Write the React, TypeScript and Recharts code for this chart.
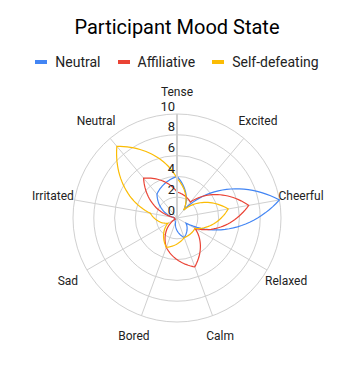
import React from 'react';
import { RadarChart, Radar, PolarGrid, PolarAngleAxis, PolarRadiusAxis } from 'recharts';

const moods = ['Tense', 'Excited', 'Cheerful', 'Relaxed', 'Calm', 'Bored', 'Sad', 'Irritated', 'Neutral'];
const neutralValues = [4, 1, 10, 1, 2, 0.4, 0.2, 0.3, 3];
const affiliativeValues = [2.5, 2, 7, 2, 5, 3, 0.2, 0.3, 5];
const selfDefeatingValues = [3.8, 1, 5, 2, 2, 3, 1, 2.6, 9];
const radiusTicks = [0, 2, 4, 6, 8, 10];
const seriesNames = ['Neutral', 'Affiliative', 'Self-defeating'];
const seriesColors = ['#4285F4', '#EA4335', '#FBBC04'];
const titleText = 'Participant Mood State';

const seriesValues = [neutralValues, affiliativeValues, selfDefeatingValues];
const data = moods.map((m, i) => {
  const row: any = { mood: m };
  seriesNames.forEach((s, k) => { row[s] = seriesValues[k][i]; });
  return row;
});

const W = 354;
const H = 371;
const CX = 177;
const CY = 218;
const OUTER = 104;
const FONT = 'Roboto, "Noto Sans", sans-serif';
const STEPS = 24;

// Draws each segment between neighbouring points by interpolating linearly in polar coordinates
function polarPath(points: any[]) {
  const n = points.length;
  if (!n) return '';
  const pol = points.map((p: any) => {
    const cx = p.cx ?? CX;
    const cy = p.cy ?? CY;
    const r = p.radius ?? Math.hypot(p.x - cx, p.y - cy);
    const a = p.angle ?? (Math.atan2(cy - p.y, p.x - cx) * 180) / Math.PI;
    return { cx, cy, r, a };
  });
  let d = `M${points[0].x},${points[0].y}`;
  for (let i = 0; i < n; i++) {
    const p = pol[i];
    const q = pol[(i + 1) % n];
    let delta = q.a - p.a;
    while (delta > 180) delta -= 360;
    while (delta <= -180) delta += 360;
    for (let s = 1; s <= STEPS; s++) {
      const f = s / STEPS;
      const ang = ((p.a + delta * f) * Math.PI) / 180;
      const r = p.r + (q.r - p.r) * f;
      d += ` L${(p.cx + r * Math.cos(ang)).toFixed(2)},${(p.cy - r * Math.sin(ang)).toFixed(2)}`;
    }
  }
  return d + ' Z';
}

const makeShape = (color: string) => (props: any) => (
  <path d={polarPath(props.points || [])} fill="none" stroke={color} strokeWidth={1.2} strokeLinejoin="miter" />
);

const AngleTick = (props: any) => {
  const { x, y, payload } = props;
  const dx = x - CX;
  const dy = y - CY;
  const len = Math.hypot(dx, dy) || 1;
  const r = OUTER + 22;
  return (
    <text x={CX + (dx / len) * r} y={CY + (dy / len) * r} textAnchor="middle" dominantBaseline="central"
      fontSize={12} fill="#222" fontFamily={FONT}>{payload.value}</text>
  );
};

const RadiusTick = (props: any) => {
  const { x, y, payload } = props;
  return (
    <text x={x - 2} y={y - 8} textAnchor="end" dominantBaseline="central" fontSize={13} fill="#222" fontFamily={FONT}>
      {payload.value}
    </text>
  );
};

export default function App() {
  return (
    <div style={{ position: 'absolute', left: 0, top: 0, width: W, height: H, background: '#fff' }}>
      <div style={{ position: 'absolute', left: 0, top: 15, width: W, textAlign: 'center', fontFamily: FONT, fontSize: 20, lineHeight: '24px', color: '#000' }}>
        {titleText}
      </div>
      <div style={{ position: 'absolute', left: 0, top: 54, width: W, display: 'flex', justifyContent: 'center', alignItems: 'center', fontFamily: FONT, fontSize: 14, lineHeight: '16px', color: '#222' }}>
        {seriesNames.map((s, i) => (
          <div key={s} style={{ display: 'flex', alignItems: 'center', marginLeft: i ? 17 : 0 }}>
            <div style={{ width: 12, height: 4, background: seriesColors[i], marginRight: 8 }} />
            <span>{s}</span>
          </div>
        ))}
      </div>
      <div style={{ position: 'absolute', left: 0, top: 0 }}>
        <RadarChart width={W} height={H} data={data} cx={CX} cy={CY} outerRadius={OUTER} margin={{ top: 0, right: 0, bottom: 0, left: 0 }}>
          <PolarGrid gridType="circle" stroke="#d0d0d0" />
          <PolarAngleAxis dataKey="mood" tick={<AngleTick />} tickLine={false} axisLine={false} />
          {seriesNames.map((s, i) => (
            <Radar key={s} name={s} dataKey={s} stroke={seriesColors[i]} fill="none" isAnimationActive={false}
              shape={makeShape(seriesColors[i])} />
          ))}
          <PolarRadiusAxis angle={90} domain={[0, 10]} ticks={radiusTicks as any} tickCount={6} tick={<RadiusTick />}
            axisLine={{ stroke: '#d0d0d0', strokeWidth: 2 }} tickLine={false} />
        </RadarChart>
      </div>
    </div>
  );
}
